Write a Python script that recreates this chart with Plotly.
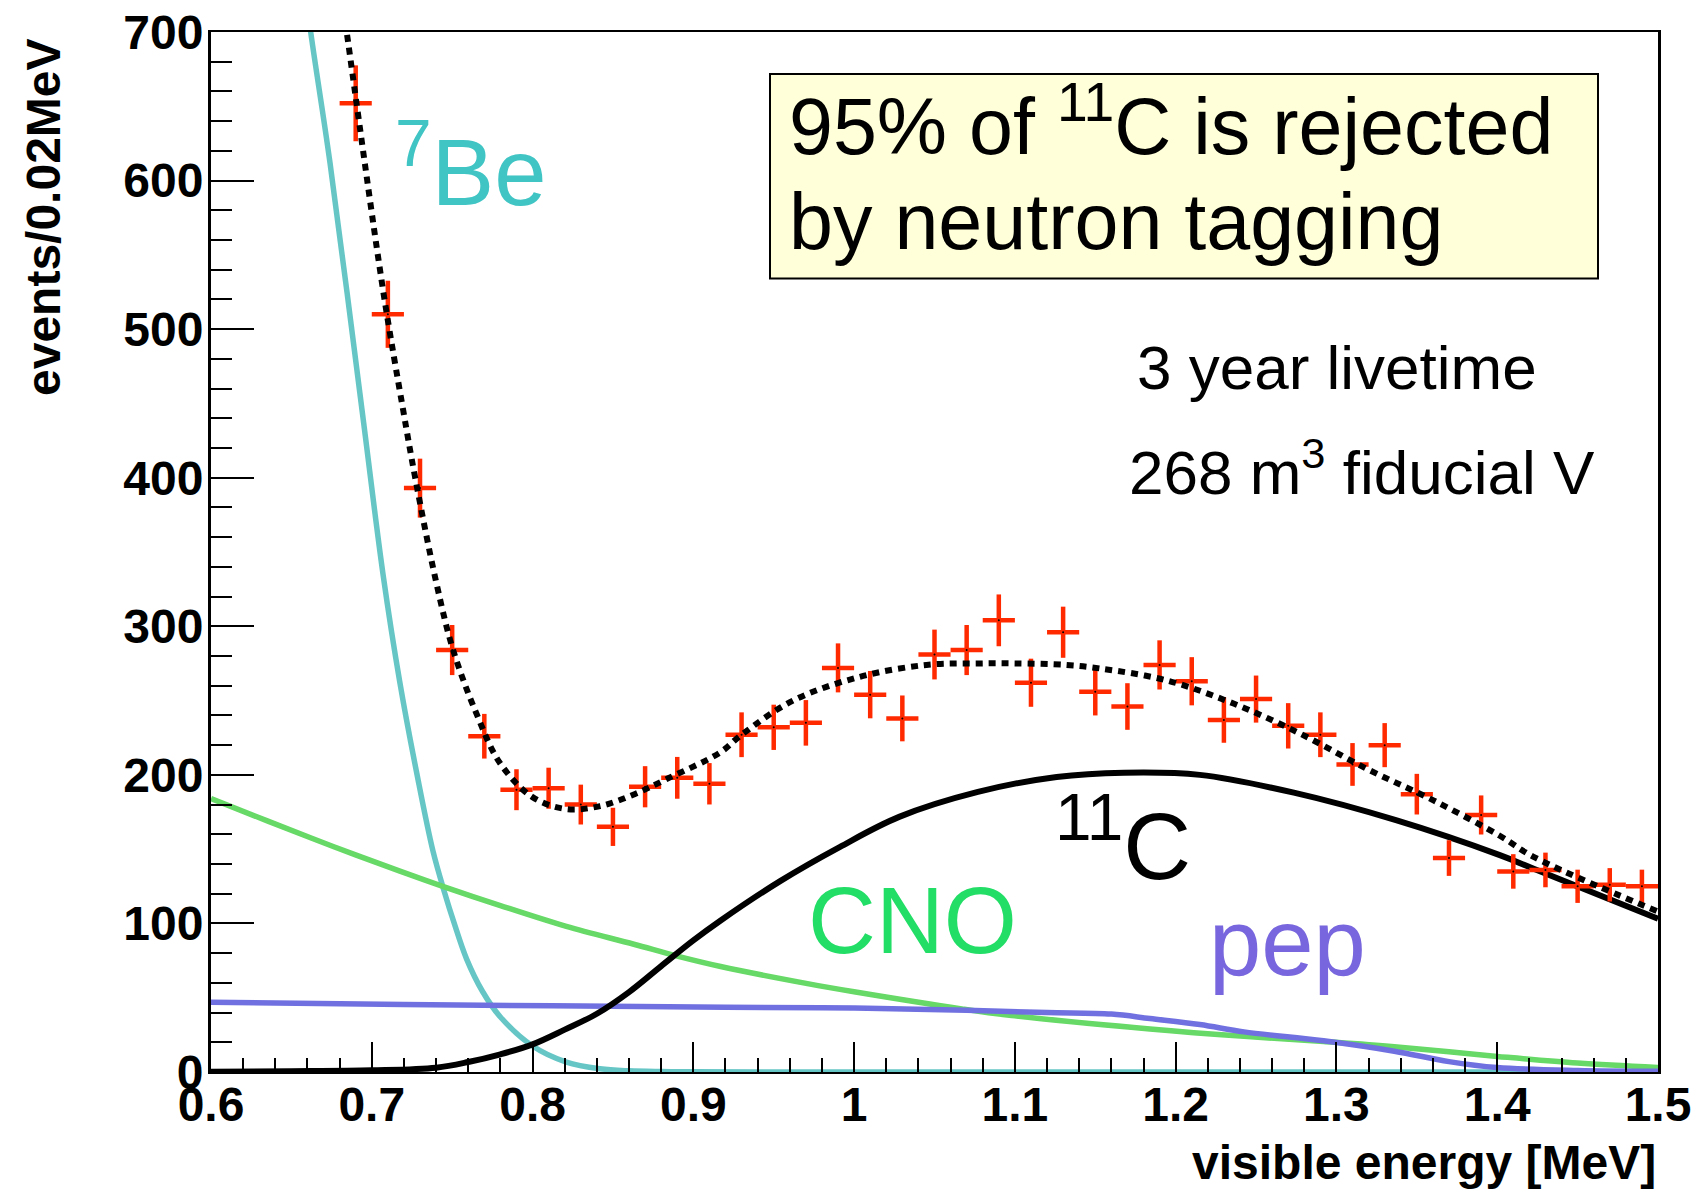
import numpy as np
import plotly.graph_objects as go

# ---------------- data ----------------
energy_bins = [0.69, 0.71, 0.73, 0.75, 0.77, 0.79, 0.81, 0.83, 0.85, 0.87,
               0.89, 0.91, 0.93, 0.95, 0.97, 0.99, 1.01, 1.03, 1.05, 1.07,
               1.09, 1.11, 1.13, 1.15, 1.17, 1.19, 1.21, 1.23, 1.25, 1.27,
               1.29, 1.31, 1.33, 1.35, 1.37, 1.39, 1.41, 1.43, 1.45, 1.47, 1.49]
counts = [652, 510, 393, 284, 226, 190, 191, 180, 165, 192,
          198, 194, 227, 232, 235, 272, 254, 238, 281, 284,
          304, 262, 296, 256, 246, 274, 263, 237, 251, 233,
          227, 207, 220, 187, 144, 173, 135, 136, 125, 126, 125]

be7_E = [0.650, 0.662, 0.674, 0.694, 0.707, 0.7175, 0.728, 0.738, 0.7455, 0.751,
         0.759, 0.769, 0.780, 0.800, 0.821, 0.842, 0.860, 0.880, 0.900, 1.000, 1.500]
be7_val = [797, 700, 612, 445, 335, 262, 201, 149, 120, 101,
           76, 54, 37, 17.5, 6.7, 2.2, 0.8, 0.3, 0.1, 0, 0]

cno_E = [0.600, 0.635, 0.676, 0.7175, 0.7455, 0.780, 0.821, 0.863, 0.890, 0.917,
         0.971, 1.000, 1.067, 1.098, 1.184, 1.2425, 1.292, 1.336, 1.400, 1.450, 1.500]
cno_val = [184, 169, 151.8, 135.2, 124.5, 112, 98, 86, 78, 71,
           59.5, 54, 42.5, 38, 29, 24, 20.5, 17, 10.5, 6, 3]

pep_E = [0.600, 0.720, 0.920, 1.000, 1.070, 1.120, 1.160, 1.184, 1.215, 1.2425,
         1.292, 1.336, 1.370, 1.400, 1.450, 1.500]
pep_val = [47, 45.5, 43.5, 43, 41.5, 40, 39, 36, 32, 27,
           21, 14, 7, 3, 1, 0.5]

c11_E = [0.600, 0.650, 0.700, 0.740, 0.760, 0.780, 0.800, 0.820, 0.840, 0.860,
         0.880, 0.900, 0.917, 0.954, 0.991, 1.028, 1.077, 1.126, 1.168, 1.215,
         1.2735, 1.337, 1.4016, 1.4223, 1.500]
c11_val = [0.2, 0.5, 1.1, 2.9, 6.7, 11.9, 18.6, 28.5, 39.2, 53.8,
           71.3, 88.6, 102, 128.5, 151.4, 171.7, 188.5, 198.6, 201.5, 200,
           188, 169.5, 146, 137, 103.2]

total_E = [0.678, 0.6844, 0.7072, 0.7196, 0.727, 0.740, 0.7506, 0.7652, 0.7797, 0.800,
           0.821, 0.842, 0.8634, 0.884, 0.9166, 0.930, 0.962, 1.0036, 1.045, 1.078,
           1.100, 1.132, 1.153, 1.194, 1.236, 1.277, 1.319, 1.360, 1.4016, 1.4223, 1.500]
total_val = [750, 700, 525, 445, 400, 330, 284, 241, 208, 185,
             177, 179, 187, 197.5, 215, 227, 250, 266, 274, 275,
             275, 274, 271.6, 263.7, 248, 228, 204, 183, 159, 145, 108]

x_ticks = [0.6, 0.7, 0.8, 0.9, 1.0, 1.1, 1.2, 1.3, 1.4, 1.5]
x_ticktext = ["0.6", "0.7", "0.8", "0.9", "1", "1.1", "1.2", "1.3", "1.4", "1.5"]
y_ticks = [0, 100, 200, 300, 400, 500, 600, 700]

# ---------------- layout geometry (pixels) ----------------
W, H = 1699, 1192
L, R, T, B = 211, 1658, 32, 1072
PW, PH = R - L, B - T


def px(x):
    return (x - L) / PW


def py(y):
    return (B - y) / PH


FONT = "Liberation Sans, Arial, Helvetica, sans-serif"

fig = go.Figure()

curve_style = dict(shape="spline", smoothing=1.0)
fig.add_trace(go.Scatter(x=be7_E, y=be7_val, mode="lines",
                         line=dict(color="#66c6c6", width=5.5, **curve_style),
                         hoverinfo="skip"))
fig.add_trace(go.Scatter(x=cno_E, y=cno_val, mode="lines",
                         line=dict(color="#66d966", width=5.5, **curve_style),
                         hoverinfo="skip"))
fig.add_trace(go.Scatter(x=pep_E, y=pep_val, mode="lines",
                         line=dict(color="#7070e0", width=5.5, **curve_style),
                         hoverinfo="skip"))
fig.add_trace(go.Scatter(x=c11_E, y=c11_val, mode="lines",
                         line=dict(color="black", width=6, **curve_style),
                         hoverinfo="skip"))

fig.add_trace(go.Scatter(
    x=energy_bins, y=counts, mode="markers",
    marker=dict(color="black", size=2),
    error_y=dict(type="data", array=np.sqrt(np.array(counts, dtype=float)),
                 color="#ff2a00", thickness=4.5, width=0),
    error_x=dict(type="constant", value=0.01, color="#ff2a00", thickness=4.5, width=0),
))

fig.add_trace(go.Scatter(x=total_E, y=total_val, mode="lines",
                         line=dict(color="black", width=6, dash="7px,6px", **curve_style),
                         hoverinfo="skip"))

annotations = []

# Text box contents
annotations.append(dict(xref="paper", yref="paper", x=px(787), y=py(121),
                        xanchor="left", yanchor="middle", showarrow=False,
                        text="95% of <sup>11</sup>C is rejected",
                        font=dict(family=FONT, size=79, color="black")))
annotations.append(dict(xref="paper", yref="paper", x=px(787), y=py(221),
                        xanchor="left", yanchor="middle", showarrow=False,
                        text="by neutron tagging",
                        font=dict(family=FONT, size=79, color="black")))
annotations.append(dict(xref="paper", yref="paper", x=px(1337), y=py(368),
                        xanchor="center", yanchor="middle", showarrow=False,
                        text="3 year livetime",
                        font=dict(family=FONT, size=62, color="black")))
annotations.append(dict(xref="paper", yref="paper", x=px(1362), y=py(468),
                        xanchor="center", yanchor="middle", showarrow=False,
                        text="268 m<sup>3</sup> fiducial V",
                        font=dict(family=FONT, size=62, color="black")))

# component labels
annotations.append(dict(xref="paper", yref="paper", x=px(471), y=py(165),
                        xanchor="center", yanchor="middle", showarrow=False,
                        text="<sup>7</sup>Be",
                        font=dict(family=FONT, size=94, color="#40c4c4")))
annotations.append(dict(xref="paper", yref="paper", x=px(1123), y=py(839),
                        xanchor="center", yanchor="middle", showarrow=False,
                        text="<sup>11</sup>C",
                        font=dict(family=FONT, size=94, color="black")))
annotations.append(dict(xref="paper", yref="paper", x=px(912.5), y=py(920),
                        xanchor="center", yanchor="middle", showarrow=False,
                        text="CNO",
                        font=dict(family=FONT, size=94, color="#22dd66")))
annotations.append(dict(xref="paper", yref="paper", x=px(1287), y=py(942),
                        xanchor="center", yanchor="middle", showarrow=False,
                        text="pep",
                        font=dict(family=FONT, size=94, color="#7766dd")))

# axis titles
annotations.append(dict(xref="paper", yref="paper", x=px(43), y=py(36),
                        xanchor="center", yanchor="top", showarrow=False,
                        textangle=-90, text="events/0.02MeV",
                        font=dict(family=FONT, size=48, color="black", weight="bold")))
annotations.append(dict(xref="paper", yref="paper", x=1.0, y=py(1191),
                        xanchor="right", yanchor="bottom", showarrow=False,
                        text="visible energy [MeV]",
                        font=dict(family=FONT, size=48, color="black", weight="bold")))

shapes = [dict(type="rect", xref="paper", yref="paper",
               x0=px(770), x1=px(1598), y0=py(278.5), y1=py(74),
               fillcolor="#ffffd9", line=dict(color="black", width=2), layer="above")]

fig.update_layout(
    width=W, height=H,
    margin=dict(l=L, r=W - R, t=T, b=H - B, pad=0, autoexpand=False),
    paper_bgcolor="white", plot_bgcolor="white",
    showlegend=False,
    annotations=annotations,
    shapes=shapes,
    xaxis=dict(range=[0.6, 1.5], tickvals=x_ticks, ticktext=x_ticktext,
               automargin=False, ticklabelstandoff=-11,
               ticks="inside", ticklen=30, tickwidth=1.8, tickcolor="black",
               minor=dict(dtick=0.02, tick0=0.6, ticks="inside", ticklen=14,
                          tickwidth=1.5, tickcolor="black", showgrid=False),
               showline=True, linecolor="black", linewidth=2, mirror=True,
               showgrid=False, zeroline=False,
               tickfont=dict(family=FONT, size=48, color="black", weight="bold")),
    yaxis=dict(range=[0, 700], tickvals=y_ticks,
               automargin=False, ticklabelstandoff=-5,
               ticks="inside", ticklen=43, tickwidth=1.8, tickcolor="black",
               minor=dict(dtick=20, tick0=0, ticks="inside", ticklen=21,
                          tickwidth=1.5, tickcolor="black", showgrid=False),
               showline=True, linecolor="black", linewidth=3, mirror=True,
               showgrid=False, zeroline=False,
               tickfont=dict(family=FONT, size=48, color="black", weight="bold")),
)

fig.write_html("out.html")
